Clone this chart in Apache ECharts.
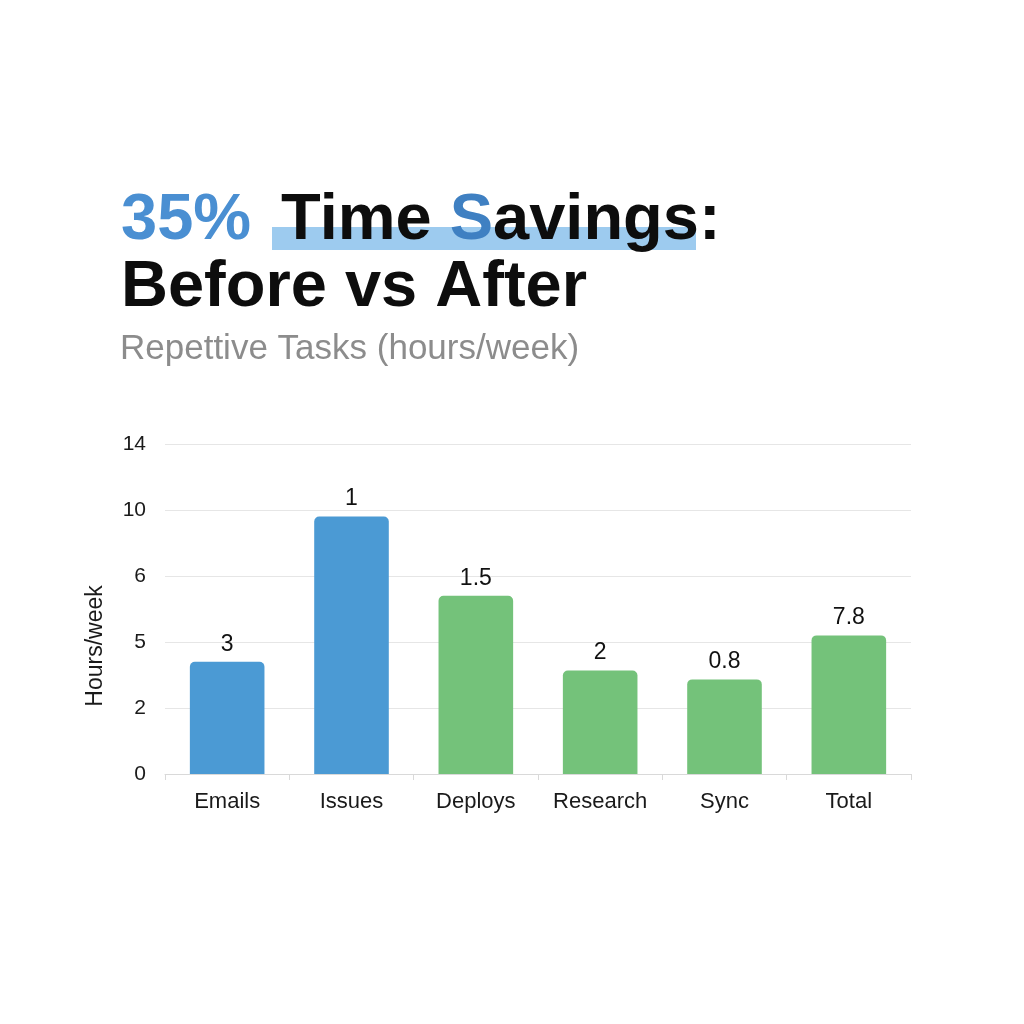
<!DOCTYPE html>
<html>
<head>
<meta charset="utf-8">
<script src="https://cdn.jsdelivr.net/npm/echarts@6/dist/echarts.min.js"></script>
<style>
html,body{margin:0;padding:0;background:#ffffff;}
#chart{width:1024px;height:1024px;}
</style>
</head>
<body>
<div id="chart"></div>
<script>
// ---- data ----
var categories = ['Emails', 'Issues', 'Deploys', 'Research', 'Sync', 'Total'];
// bar heights (hours/week) as read against the printed y-axis ticks
var barHeights = [4.1, 9.6, 5.7, 3.7, 3.3, 5.1];
// labels printed above each bar
var valueLabels = ['3', '1', '1.5', '2', '0.8', '7.8'];
// which phase each bar belongs to
var phases = ['before', 'before', 'after', 'after', 'after', 'after'];
// y-axis tick labels (evenly spaced on the chart)
var tickLabels = ['0', '2', '5', '6', '10', '14'];

// map an hour value onto the evenly spaced tick positions
var tickValues = tickLabels.map(Number);
function toAxis(h) {
  for (var i = 0; i < tickValues.length - 1; i++) {
    var a = tickValues[i], b = tickValues[i + 1];
    if (h <= b) return i + (h - a) / (b - a);
  }
  return tickValues.length - 1;
}

var phaseColors = { before: '#4b9ad4', after: '#74c27a' };
var FONT = '"Liberation Sans", Arial, sans-serif';
var TF = 'bold 65px ' + FONT;

var chart = echarts.init(document.getElementById('chart'));
chart.setOption({
  backgroundColor: '#ffffff',
  animation: false,
  graphic: [
    { type: 'rect', shape: { x: 272, y: 227, width: 424, height: 23 },
      style: { fill: '#9dcbef' }, z: 1 },
    { type: 'text', left: 121, top: 189, z: 2,
      style: {
        text: '{b|35%}{k|Time }{b2|S}{k|avings:}',
        font: TF,
        rich: {
          b: { fill: '#4a8fd2', font: TF, padding: [0, 30, 0, 0] },
          b2: { fill: '#3f80c2', font: TF },
          k: { fill: '#0d0d0d', font: TF }
        },
        fill: '#0d0d0d'
      } },
    { type: 'text', left: 121, top: 256, z: 2,
      style: { text: 'Before vs After', font: TF, fill: '#0d0d0d' } },
    { type: 'text', left: 120, top: 332, z: 2,
      style: { text: 'Repettive Tasks (hours/week)', font: '35px ' + FONT, fill: '#8c8c8c' } }
  ],
  grid: { left: 165, right: 113, top: 444, bottom: 250, containLabel: false },
  xAxis: {
    type: 'category',
    data: categories,
    axisLine: { show: true, lineStyle: { color: '#d9d9d9', width: 1 } },
    axisTick: { show: true, length: 6, lineStyle: { color: '#d9d9d9' } },
    axisLabel: { color: '#1a1a1a', fontSize: 22, fontFamily: FONT, margin: 17 }
  },
  yAxis: {
    type: 'value',
    min: 0, max: tickLabels.length - 1, interval: 1,
    name: 'Hours/week',
    nameLocation: 'middle',
    nameGap: 58,
    nameRotate: 90,
    nameTextStyle: { color: '#1a1a1a', fontSize: 23, fontFamily: FONT, padding: [0, 74, 0, 0] },
    axisLine: { show: false },
    axisTick: { show: false },
    axisLabel: {
      color: '#1a1a1a', fontSize: 21, fontFamily: FONT, margin: 19,
      formatter: function (v) { return tickLabels[Math.round(v)]; }
    },
    splitLine: { lineStyle: { color: '#e6e6e6', width: 1 } }
  },
  series: [{
    type: 'bar',
    barWidth: '60%',
    data: barHeights.map(function (h, i) {
      return {
        value: toAxis(h),
        itemStyle: { color: phaseColors[phases[i]], borderRadius: [5, 5, 0, 0] },
        label: { formatter: valueLabels[i] }
      };
    }),
    label: {
      show: true, position: 'top', distance: 6,
      color: '#111111', fontSize: 23, fontFamily: FONT
    }
  }]
});
</script>
</body>
</html>
